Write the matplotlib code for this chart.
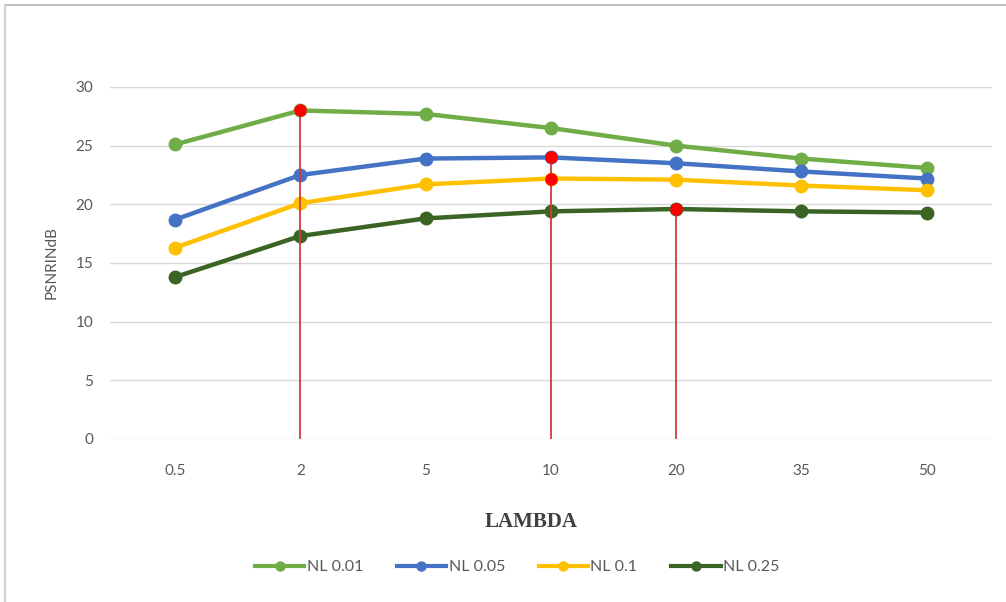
import numpy as np
import matplotlib.pyplot as plt
from matplotlib.lines import Line2D

plt.rcParams['font.family'] = ['Lato', 'DejaVu Sans']

# 数据
lambdas = ['0.5', '2', '5', '10', '20', '35', '50']
nl_001 = [25.1, 28.0, 27.7, 26.5, 25.0, 23.9, 23.1]
nl_005 = [18.7, 22.5, 23.9, 24.0, 23.5, 22.8, 22.2]
nl_01 = [16.3, 20.1, 21.7, 22.2, 22.1, 21.6, 21.2]
nl_025 = [13.8, 17.3, 18.8, 19.4, 19.6, 19.4, 19.3]

series_names = ['NL 0.01', 'NL 0.05', 'NL 0.1', 'NL 0.25']
series_colors = ['#70AD47', '#4472C4', '#FFC000', '#3A6424']

# 红色标记: (类别索引, 数值)
best_idx = [1, 3, 4]
best_top = [nl_001[1], nl_005[3], nl_025[4]]
red_points_x = [1, 3, 3, 4]
red_points_y = [nl_001[1], nl_005[3], nl_01[3], nl_025[4]]

fig = plt.figure(figsize=(10.06, 6.02), dpi=100)
ax = fig.add_axes([0.1093, 0.2708, 0.8767, 0.5847])

x = np.arange(len(lambdas))
all_series = [nl_001, nl_005, nl_01, nl_025]
for vals, name, col in zip(all_series, series_names, series_colors):
    ax.plot(x, vals, color=col, lw=3.2, marker='o', ms=9,
            solid_capstyle='round', zorder=3)

# 红色竖线
ax.vlines(best_idx, 0, best_top, colors='#D23A3A', lw=1.3, zorder=4)
ax.plot(red_points_x, red_points_y, 'o', color='#FF0000', ms=8, zorder=5)

ax.set_ylim(0, 30)
ax.set_xlim(-0.52, 6.52)
ax.set_yticks(range(0, 31, 5))
ax.set_xticks(x)
ax.set_xticklabels(lambdas)
ax.grid(axis='y', color='#D9D9D9', lw=1)
ax.set_axisbelow(True)
for s in ax.spines.values():
    s.set_visible(False)
ax.tick_params(length=0, colors='#595959', labelsize=11)
ax.tick_params(axis='y', pad=12)
ax.tick_params(axis='x', pad=18)

ax.set_ylabel('PSNRINdB', color='#595959', fontsize=11, labelpad=12)
fig.text(0.528, 0.133, 'LAMBDA', ha='center', va='center', fontsize=15,
         fontweight='bold', family='Liberation Serif', color='#404040')

# 图例
handles = [Line2D([], [], color=c, lw=3, marker='o', ms=6.5) for c in series_colors]
ax.legend(handles, series_names, loc='center', bbox_to_anchor=(0.514, 0.058),
          bbox_transform=fig.transFigure, ncol=4, frameon=False, fontsize=11.5,
          handlelength=3.1, handletextpad=0.15, columnspacing=2.1,
          labelcolor='#595959')

# 外框
fig.add_artist(Line2D([0.005, 1.0], [0.991, 0.991], color='#BFBFBF', lw=1.5))
fig.add_artist(Line2D([0.005, 0.005], [0.0, 0.991], color='#D0D0D0', lw=1.5))

fig.savefig('out.png', dpi=100)
